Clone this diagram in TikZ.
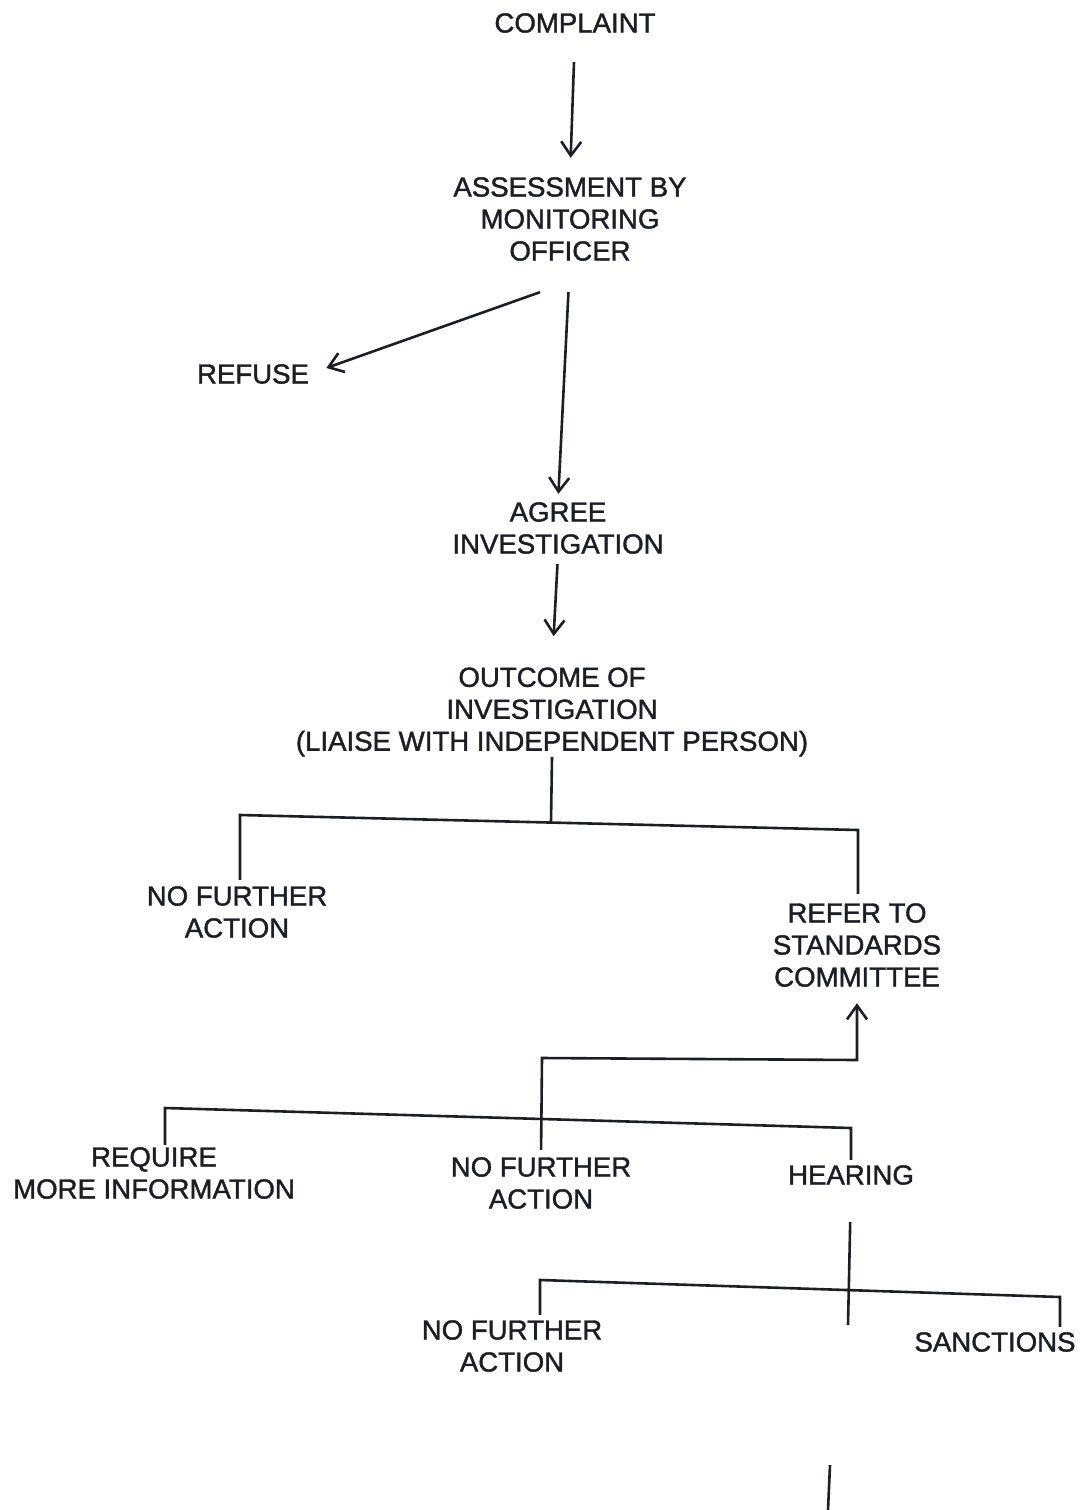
\documentclass[tikz,border=0pt]{standalone}
\usepackage{fontspec}
\setmainfont{Liberation Sans}
\newfontfamily\scanfont{Liberation Sans}[FakeBold=1.4]
\usepackage{tikz}
\usetikzlibrary{positioning,arrows.meta}
\definecolor{ink}{RGB}{28,30,38}
\tikzset{
	stage/.style={align=center, inner sep=0pt, text=ink, font=\scanfont\fontsize{13.8}{16}\selectfont},
	link/.style={draw=ink, line width=1.3pt},
	flow/.style={link, -{Straight Barb[length=7pt,width=10pt]}}
}

\begin{document}
\begin{tikzpicture}[x=0.5pt, y=-0.5pt]
		\useasboundingbox (0,0) rectangle (1088,1510);
		\node[stage] (complaint) at (575,23) {COMPLAINT};
		\node[stage] (assess) at (570,219) {ASSESSMENT BY\\MONITORING\\OFFICER};
		\node[stage] (refuse) at (253,374) {REFUSE};
		\node[stage] (agree) at (558,528) {AGREE\\INVESTIGATION};
		\node[stage] (outcome) at (552,712) {OUTCOME OF\\INVESTIGATION\\(LIAISE WITH INDEPENDENT PERSON)};
		\node[stage] (nfa1) at (237,912) {NO FURTHER\\ACTION};
		\node[stage] (refer) at (857,945) {REFER TO\\STANDARDS\\COMMITTEE};
		\node[stage] (moreinfo) at (154,1173) {REQUIRE\\MORE INFORMATION};
		\node[stage] (nfa2) at (541,1183) {NO FURTHER\\ACTION};
		\node[stage] (hearing) at (851,1175) {HEARING};
		\node[stage] (nfa3) at (512,1346) {NO FURTHER\\ACTION};
		\node[stage] (sanctions) at (995,1342) {SANCTIONS};
		
		\coordinate (j1) at (551,822);
		\coordinate (l1) at (240,815);
		\coordinate (r1) at (858,830);
		\coordinate (c2) at (542,1058);
		\coordinate (c3) at (857,1060);
		\coordinate (l2) at (165,1108);
		\coordinate (r2) at (851,1128);
		\coordinate (h2) at (848,1325);
		\coordinate (l3) at (540,1280);
		\coordinate (r3) at (1060,1297);
		\coordinate (b1) at (830,1465);
		\coordinate (b2) at (828,1510);
		
		\draw[flow, shorten <=14.5pt, shorten >=9.5pt] (complaint.south) -- (assess.north);
		\draw[flow, shorten >=9pt] (assess.south) ++(-30,31) -- (refuse.east);
		\draw[flow, shorten <=15.5pt, shorten >=4pt] (assess.south) -- (agree.north);
		\draw[flow, shorten <=5pt, shorten >=15.5pt] (agree.south) -- (outcome.north);
		\draw[link] (outcome.south) -- (j1);
		\draw[link, shorten <=3pt, shorten >=4.5pt] (l1 |- nfa1.north) -- (l1) -- (r1) -- (r1 |- refer.north);
		\draw[flow, shorten <=3.5pt, shorten >=8pt] (nfa2.north) -- (c2) -- (c3) -- (refer.south);
		\draw[link, shorten <=1pt, shorten >=2.5pt] (l2 |- moreinfo.north) -- (l2) -- (r2) -- (hearing.north);
		\draw[link, shorten <=18.5pt] (hearing.south) -- (h2);
		\draw[link, shorten <=2.5pt, shorten >=2.5pt] (l3 |- nfa3.north) -- (l3) -- (r3) -- (r3 |- sanctions.north);
		\draw[link] (b1) -- (b2);
	\end{tikzpicture}
\end{document}
